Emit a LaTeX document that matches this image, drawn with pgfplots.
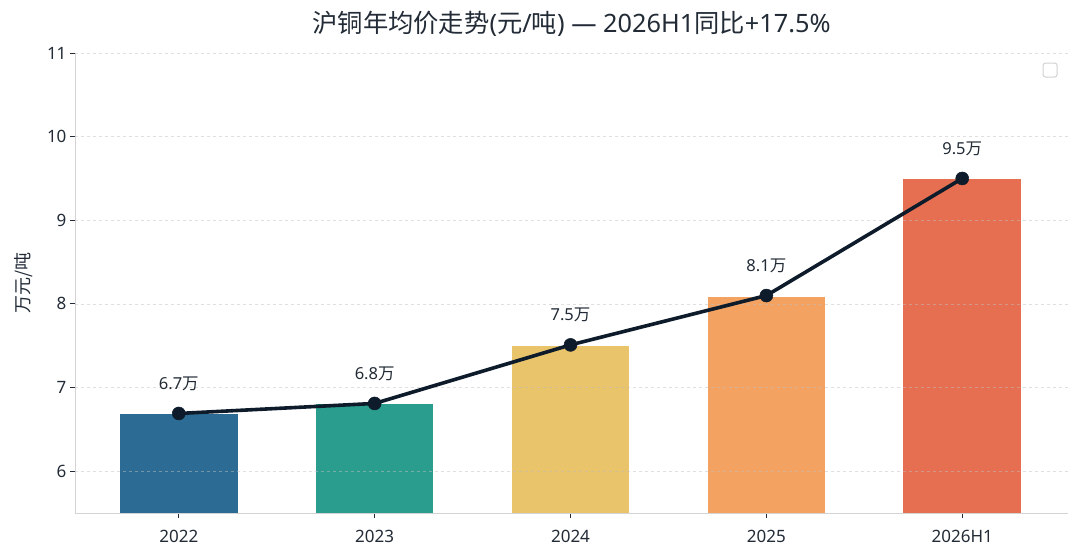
\documentclass[border=0pt]{standalone}
\usepackage{pgfplots}
\pgfplotsset{compat=1.18}
\usepackage{fontspec}
\setmainfont{Noto Sans}
\newfontfamily\cjk{Noto Sans CJK SC}
\definecolor{c1}{HTML}{2C6C94}
\definecolor{c2}{HTML}{2A9D8F}
\definecolor{c3}{HTML}{E9C46A}
\definecolor{c4}{HTML}{F4A261}
\definecolor{c5}{HTML}{E76F51}
\definecolor{lineC}{HTML}{0D1B2A}
\definecolor{txt}{HTML}{222B36}
\definecolor{spine}{HTML}{D4D4D4}
\begin{document}
\begin{tikzpicture}
\useasboundingbox (-75pt,-47pt) rectangle (1005pt,513pt);
\begin{axis}[
  at={(0pt,0pt)}, anchor=south west,
  scale only axis, width=993pt, height=460pt,
  xmin=-0.53, xmax=4.54, ymin=5.5, ymax=11,
  xtick={0,1,2,3,4}, xticklabels={2022,2023,2024,2025,2026H1},
  ytick={6,7,8,9,10,11},
  axis x line*=bottom, axis y line*=left,
  axis line style={spine, line width=0.9pt, -},
  tick style={txt, line width=0.9pt},
  major tick length=5pt,
  tick align=outside,
  /pgf/number format/assume math mode=true,
  ticklabel style={font=\fontsize{17}{19}\selectfont, text=txt},
  xticklabel style={yshift=-9pt},
  ylabel={\cjk 万元/吨},
  every axis y label/.style={at={(ticklabel cs:0.5)}, xshift=-20pt, rotate=90, anchor=center, font=\fontsize{18}{20}\selectfont, text=txt},
  title={{\cjk 沪铜年均价走势}({\cjk 元}/{\cjk 吨}) — 2026H1{\cjk 同比}+17.5\%},
  title style={font=\fontsize{25.3}{28}\selectfont, text=txt, yshift=7pt},
]
\addplot[ybar, bar width=0.6, bar shift=0pt, fill=c1, draw=none] coordinates {(0,6.68)};
\addplot[ybar, bar width=0.6, bar shift=0pt, fill=c2, draw=none] coordinates {(1,6.80)};
\addplot[ybar, bar width=0.6, bar shift=0pt, fill=c3, draw=none] coordinates {(2,7.50)};
\addplot[ybar, bar width=0.6, bar shift=0pt, fill=c4, draw=none] coordinates {(3,8.08)};
\addplot[ybar, bar width=0.6, bar shift=0pt, fill=c5, draw=none] coordinates {(4,9.49)};
\pgfplotsinvokeforeach{6,7,8,9,10,11}{
  \draw[black!25, dashed, line width=0.6pt, opacity=0.5] (axis cs:-0.53,#1) -- (axis cs:4.54,#1);
}
\addplot[lineC, line width=3.6pt, mark=*, mark size=6.5pt, mark options={fill=lineC, draw=lineC, line width=0.5pt},
  nodes near coords={\pgfmathprintnumber[fixed,precision=1]{\pgfplotspointmeta}{\cjk 万}},
  point meta=y,
  every node near coord/.append style={font=\fontsize{16.5}{18}\selectfont, text=txt, yshift=19pt}]
  coordinates {(0,6.69) (1,6.81) (2,7.51) (3,8.10) (4,9.50)};
\draw[black!18, line width=1pt, rounded corners=2.5pt, fill=white] (rel axis cs:0.982,0.963) ++(-7pt,-7pt) rectangle ++(14pt,14pt);
\end{axis}
\end{tikzpicture}
\end{document}
